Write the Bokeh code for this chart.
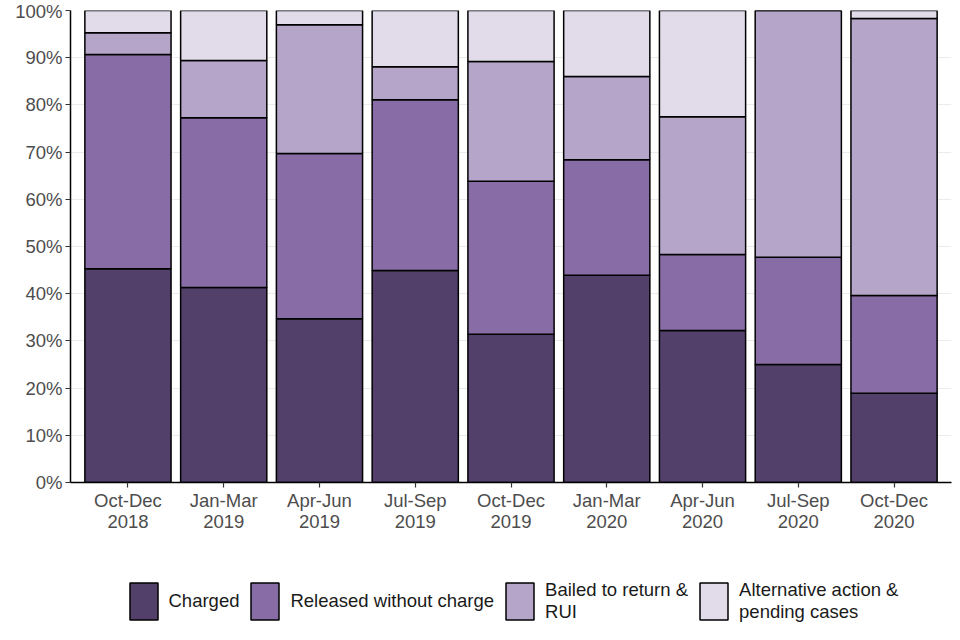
from bokeh.plotting import figure
from bokeh.layouts import column
from bokeh.models import ColumnDataSource, FixedTicker, Legend, LegendItem, Range1d
from bokeh.embed import file_html
from bokeh.resources import INLINE

quarters = ["Oct-Dec\n2018", "Jan-Mar\n2019", "Apr-Jun\n2019", "Jul-Sep\n2019",
            "Oct-Dec\n2019", "Jan-Mar\n2020", "Apr-Jun\n2020", "Jul-Sep\n2020",
            "Oct-Dec\n2020"]
charged = [45.3, 41.3, 34.7, 44.9, 31.4, 43.9, 32.2, 25.0, 18.9]
released = [45.4, 36.0, 35.0, 36.2, 32.4, 24.5, 16.1, 22.7, 20.7]
bailed = [4.6, 12.1, 27.3, 7.0, 25.4, 17.6, 29.2, 52.3, 58.7]
alternative = [4.7, 10.6, 3.0, 11.9, 10.8, 14.0, 22.5, 0.0, 1.7]

series_labels = ["Charged", "Released without charge", "Bailed to return &\nRUI",
                 "Alternative action &\npending cases"]
colors = ["#52406A", "#886CA5", "#B4A5C9", "#E1DBEA"]
y_ticks = [0, 10, 20, 30, 40, 50, 60, 70, 80, 90, 100]
y_tick_labels = ["0%", "10%", "20%", "30%", "40%", "50%", "60%", "70%", "80%", "90%", "100%"]

FONT = "Liberation Sans"
x = list(range(1, len(quarters) + 1))
keys = ["charged", "released", "bailed", "alternative"]
src = ColumnDataSource(dict(x=x, charged=charged, released=released,
                            bailed=bailed, alternative=alternative))

p = figure(width=952, height=540, x_range=Range1d(0.4, 9.6), y_range=Range1d(0, 100),
           output_backend="svg", toolbar_location=None,
           min_border_left=70, min_border_right=1, min_border_top=10, min_border_bottom=58)

rs = p.vbar_stack(keys, x="x", width=0.9, fill_color=colors, line_color="black",
                  line_width=1.5, source=src)

p.outline_line_color = None
p.xgrid.grid_line_color = None
p.ygrid.grid_line_color = "#EBEBEB"
p.ygrid.grid_line_width = 1.2

p.xaxis.ticker = FixedTicker(ticks=x)
p.xaxis.major_label_overrides = {xi: q for xi, q in zip(x, quarters)}
p.yaxis.ticker = FixedTicker(ticks=y_ticks)
p.yaxis.major_label_overrides = {t: l for t, l in zip(y_ticks, y_tick_labels)}

for ax in (p.xaxis, p.yaxis):
    ax.axis_line_color = "black"
    ax.axis_line_width = 1.5
    ax.major_tick_line_color = "#333333"
    ax.major_tick_line_width = 1.2
    ax.major_tick_out = 5
    ax.major_tick_in = 0
    ax.minor_tick_line_color = None
    ax.major_label_text_font = FONT
    ax.major_label_text_font_size = "18.5px"
    ax.major_label_text_color = "#4D4D4D"
p.xaxis.major_label_standoff = 2
p.xaxis.major_label_text_line_height = 1.0
p.yaxis.major_label_standoff = 3

# legend strip below the chart; its (hidden) stacked bars only supply the legend keys
lg = figure(width=952, height=92, x_range=Range1d(0.4, 9.6), y_range=Range1d(0, 100),
            output_backend="svg", toolbar_location=None,
            min_border_left=70, min_border_right=1, min_border_top=0, min_border_bottom=0,
            x_axis_type=None, y_axis_type=None)
lg.outline_line_color = None
lg.grid.visible = False
key_rs = lg.vbar_stack(keys, x="x", width=0.9, fill_color=colors, line_color="black",
                       line_width=1.5, source=src)
for r in key_rs:
    r.visible = False
items = [LegendItem(label=lab, renderers=[r]) for lab, r in zip(series_labels, key_rs)]
legend = Legend(items=items, orientation="horizontal", location=(55.5, 8),
                glyph_width=35, glyph_height=46, label_standoff=8, spacing=8,
                padding=0, margin=0, border_line_color=None, background_fill_alpha=0,
                inactive_fill_alpha=0,
                label_text_font=FONT, label_text_font_size="18.5px",
                label_text_color="#1A1A1A", label_height=46, label_text_line_height=1.2)
lg.add_layout(legend, "center")

layout = column(p, lg, spacing=0)
open("out.html", "w").write(file_html(layout, INLINE))
